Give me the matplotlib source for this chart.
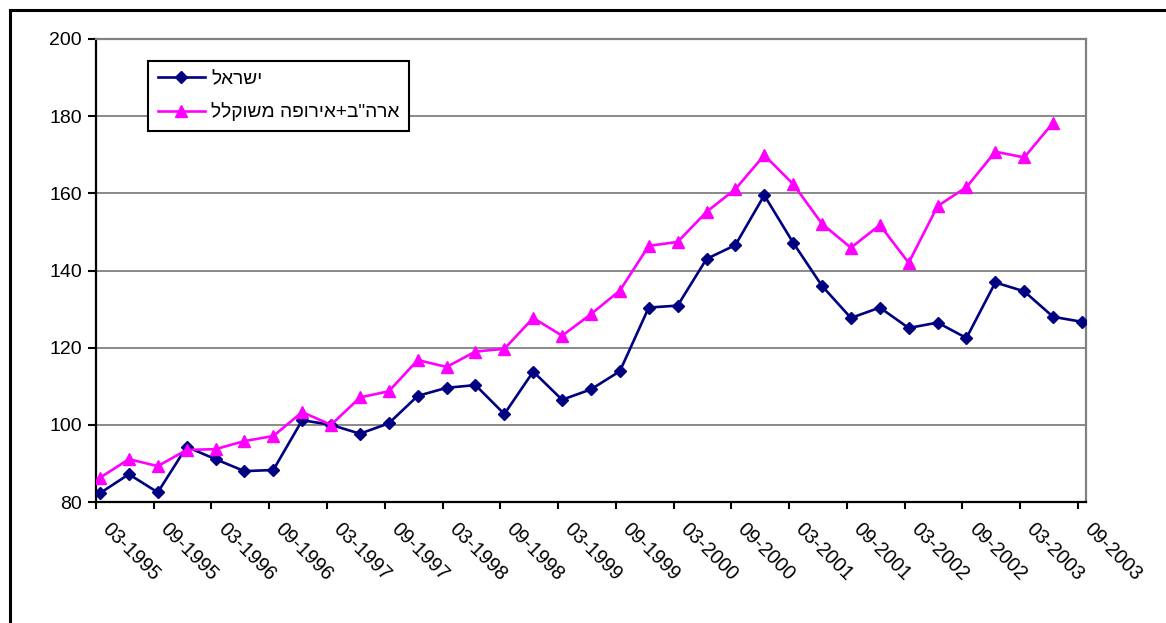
import numpy as np
import matplotlib
matplotlib.use("Agg")
import matplotlib.pyplot as plt
import matplotlib.transforms as mtransforms
from matplotlib.lines import Line2D

plt.rcParams['font.family'] = ['Liberation Sans', 'DejaVu Sans']

# quarterly data, 03-1995 .. 09-2003
quarters = ['03-1995', '06-1995', '09-1995', '12-1995',
            '03-1996', '06-1996', '09-1996', '12-1996',
            '03-1997', '06-1997', '09-1997', '12-1997',
            '03-1998', '06-1998', '09-1998', '12-1998',
            '03-1999', '06-1999', '09-1999', '12-1999',
            '03-2000', '06-2000', '09-2000', '12-2000',
            '03-2001', '06-2001', '09-2001', '12-2001',
            '03-2002', '06-2002', '09-2002', '12-2002',
            '03-2003', '06-2003', '09-2003']

israel = [82.3, 87.2, 82.5, 94.3, 91.1, 88.0, 88.3, 101.2, 100.0, 97.7,
          100.4, 107.5, 109.6, 110.3, 102.8, 113.8, 106.5, 109.2, 113.9, 130.4,
          130.9, 143.0, 146.6, 159.5, 147.2, 136.0, 127.7, 130.4, 125.1, 126.5,
          122.5, 136.9, 134.6, 128.0, 126.7]

us_europe = [86.3, 91.1, 89.3, 93.5, 93.7, 95.8, 97.1, 103.3, 100.0, 107.1,
             108.7, 116.8, 115.0, 119.0, 119.7, 127.7, 123.1, 128.7, 134.8, 146.4,
             147.4, 155.2, 161.1, 169.9, 162.4, 152.1, 145.9, 151.8, 142.0, 156.7,
             161.6, 170.8, 169.3, 178.3]

label_israel = 'ישראל'
label_us_europe = 'ארה"ב+אירופה משוקלל'


def rtl(s):
    # matplotlib has no bidi support: reverse Hebrew so it reads right-to-left
    return s[::-1]


fig = plt.figure(figsize=(11.66, 6.23), dpi=100)
ax = fig.add_axes([0.0823, 0.1942, 0.8491, 0.7432])

x1 = np.arange(len(israel))
x2 = np.arange(len(us_europe))

ax.plot(x1, israel, color='#000080', linewidth=1.9, marker='D',
        markersize=6.5, label=rtl(label_israel), zorder=3)
ax.plot(x2, us_europe, color='#FF00FF', linewidth=1.9, marker='^',
        markersize=8.5, label=rtl(label_us_europe), zorder=3)

ax.set_ylim(80, 200)
ax.set_yticks(np.arange(80, 201, 20))
ax.set_xlim(-0.14, len(quarters) - 1 + 0.14)
tick_pos = np.arange(0, len(quarters), 2) - 0.14
ax.set_xticks(tick_pos)
ax.set_xticklabels([])

# rotated date labels, placed a bit right/below each tick like the original
offset = mtransforms.ScaledTranslation(16 / 100, -17 / 100, fig.dpi_scale_trans)
for pos, lbl in zip(tick_pos, quarters[::2]):
    ax.text(pos, 0, lbl, transform=ax.get_xaxis_transform() + offset,
            rotation=-45, rotation_mode='anchor', ha='left', va='top',
            fontsize=14.3, clip_on=False)

ax.yaxis.grid(True, color='#808080', linewidth=1.3)
ax.set_axisbelow(True)
ax.tick_params(axis='y', direction='out', length=6, width=1.5, labelsize=14, pad=4)
ax.tick_params(axis='x', direction='out', length=5, width=1.5)

for side in ['left', 'bottom']:
    ax.spines[side].set_color('black')
    ax.spines[side].set_linewidth(1.6)
for side in ['top', 'right']:
    ax.spines[side].set_color('#808080')
    ax.spines[side].set_linewidth(1.6)

leg = ax.legend(loc='upper left', bbox_to_anchor=(0.0525, 0.9525),
                borderaxespad=0, fontsize=13.8, frameon=True, fancybox=False,
                edgecolor='black', framealpha=1, handlelength=2.5,
                handletextpad=0.3, borderpad=0.5, labelspacing=0.75)
leg.get_frame().set_linewidth(1.5)

# outer chart frame
fig.add_artist(Line2D([10 / 1166, 1.0], [1 - 10 / 623, 1 - 10 / 623],
                      transform=fig.transFigure, color='black', linewidth=2.2))
fig.add_artist(Line2D([10 / 1166, 10 / 1166], [0.0, 1 - 10 / 623],
                      transform=fig.transFigure, color='black', linewidth=2.2))

plt.savefig("out.png", dpi=100)
